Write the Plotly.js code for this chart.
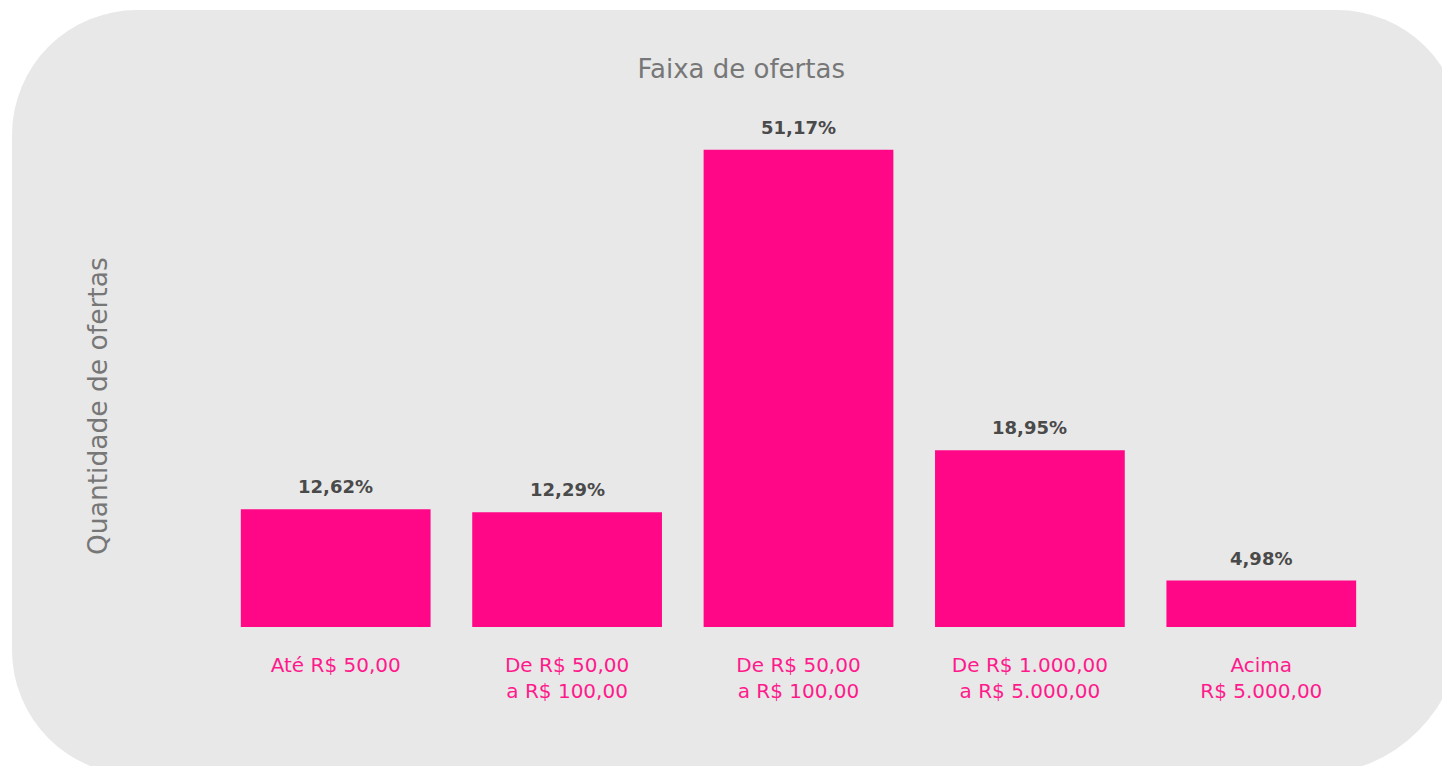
<!DOCTYPE html>
<html>
<head>
<meta charset="utf-8">
<script src="https://cdn.plot.ly/plotly-3.0.1.min.js"></script>
<style>
  html, body { margin: 0; padding: 0; background: #ffffff; overflow: hidden; }
  #bg { position: absolute; left: 12px; top: 10px; width: 1450px; height: 765px;
        background: #e8e8e8; border-radius: 125px 125px 150px 125px; }
  #chart { position: absolute; left: 0; top: 0; width: 1442px; height: 766px; }
</style>
</head>
<body>
<div id="bg"></div>
<div id="chart"></div>
<script>
const categories = [
  "Até R$ 50,00",
  "De R$ 50,00<br>a R$ 100,00",
  "De R$ 50,00<br>a R$ 100,00",
  "De R$ 1.000,00<br>a R$ 5.000,00",
  "Acima<br>R$ 5.000,00"
];
const values = [12.62, 12.29, 51.17, 18.95, 4.98];
const positions = categories.map((c, i) => i);

const FONT = "DejaVu Sans, sans-serif";

const trace = {
  type: "bar",
  x: positions,
  y: values,
  marker: { color: "#ff0787" },
  hoverinfo: "skip"
};

const valueLabels = values.map((v, i) => ({
  x: positions[i],
  y: v,
  xref: "x", yref: "y",
  text: "<b>" + v.toFixed(2).replace(".", ",") + "%</b>",
  showarrow: false,
  xanchor: "center", yanchor: "bottom",
  yshift: 10,
  font: { family: FONT, size: 18, color: "#4a4a4a" }
}));

const layout = {
  width: 1442,
  height: 766,
  paper_bgcolor: "rgba(0,0,0,0)",
  plot_bgcolor: "rgba(0,0,0,0)",
  separators: ",.",
  margin: { l: 220, r: 65, t: 100, b: 139 },
  bargap: 0.18,
  showlegend: false,
  font: { family: FONT },
  title: {
    text: "Faixa de ofertas",
    font: { family: FONT, size: 26, color: "#777777" },
    x: 0.514, xanchor: "center",
    y: 1 - 69 / 766, yanchor: "middle", yref: "container"
  },
  xaxis: {
    range: [-0.5, 4.5],
    tickvals: positions,
    ticktext: categories,
    tickfont: { family: FONT, size: 20, color: "#ff1a8c" },
    ticks: "outside",
    ticklen: 20,
    tickcolor: "rgba(0,0,0,0)",
    showline: false,
    showgrid: false,
    zeroline: false,
    fixedrange: true
  },
  yaxis: {
    range: [0, 56.5],
    visible: false,
    showgrid: false,
    zeroline: false,
    fixedrange: true
  },
  annotations: valueLabels.concat([{
    text: "Quantidade de ofertas",
    xref: "paper", yref: "paper",
    x: (98 - 220) / 1157, y: (627 - 406) / 527,
    xanchor: "center", yanchor: "middle",
    textangle: -90,
    showarrow: false,
    font: { family: FONT, size: 26.5, color: "#777777" }
  }])
};

Plotly.newPlot("chart", [trace], layout, { displayModeBar: false, staticPlot: true });
</script>
</body>
</html>
